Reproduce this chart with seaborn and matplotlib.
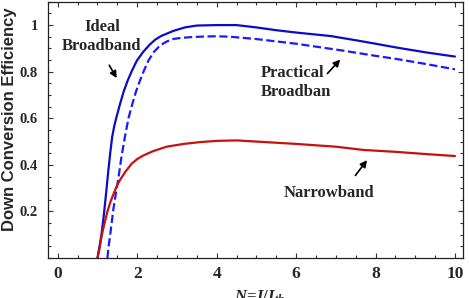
import numpy as np
import matplotlib
matplotlib.use('Agg')
import matplotlib.pyplot as plt
import seaborn as sns
from matplotlib.ticker import MultipleLocator

# values
ideal_n = [1.0, 1.05, 1.1, 1.15, 1.2, 1.27, 1.32, 1.37, 1.42, 1.47, 1.57, 1.66, 1.76, 1.87, 1.99,
           2.15, 2.32, 2.45, 2.6, 2.91, 3.2, 3.5, 4.0, 4.5, 5.0, 5.5, 6.0, 6.87, 7.5, 8.0,
           8.55, 9.3, 10.0]
ideal_eff = [0.0, 0.05, 0.1, 0.17, 0.25, 0.37, 0.45, 0.52, 0.565, 0.6, 0.663, 0.715, 0.762, 0.805, 0.847,
             0.885, 0.917, 0.937, 0.953, 0.975, 0.99, 0.998, 1.0, 1.0, 0.99, 0.978, 0.968, 0.953, 0.935, 0.92,
             0.903, 0.882, 0.865]

practical_n = [1.25, 1.28, 1.32, 1.36, 1.4, 1.46, 1.52, 1.6, 1.69, 1.78, 1.88, 1.97, 2.07, 2.17, 2.28,
               2.42, 2.58, 2.75, 2.9, 3.1, 3.33, 3.7, 4.0, 4.34, 5.0, 5.5, 6.0, 7.12, 8.0,
               8.55, 9.3, 10.0]
practical_eff = [0.0, 0.05, 0.1, 0.155, 0.21, 0.275, 0.336, 0.43, 0.52, 0.6, 0.663, 0.715, 0.762, 0.805, 0.847,
                 0.885, 0.913, 0.93, 0.94, 0.945, 0.948, 0.951, 0.952, 0.95, 0.94, 0.93, 0.92, 0.892, 0.868,
                 0.854, 0.832, 0.81]

narrow_n = [1.0, 1.04, 1.1, 1.14, 1.2, 1.25, 1.32, 1.38, 1.44, 1.5, 1.57, 1.7, 1.86, 2.0, 2.15,
            2.4, 2.74, 3.17, 3.6, 4.0, 4.5, 5.0, 6.0, 7.0, 7.7, 8.5, 9.3, 10.0]
narrow_eff = [0.0, 0.03, 0.09, 0.123, 0.165, 0.2, 0.238, 0.265, 0.29, 0.315, 0.336, 0.37, 0.405, 0.425, 0.44,
              0.459, 0.478, 0.49, 0.498, 0.503, 0.505, 0.5, 0.49, 0.478, 0.464, 0.456, 0.446, 0.438]

x_ticks = [0, 2, 4, 6, 8, 10]
y_ticks = [0.2, 0.4, 0.6, 0.8, 1.0]
y_tick_labels = ['0.2', '0.4', '0.6', '0.8', '1']

sns.set_style('ticks')
plt.rcParams['font.family'] = ['Liberation Serif', 'DejaVu Serif']
plt.rcParams['mathtext.fontset'] = 'custom'
plt.rcParams['mathtext.it'] = 'Liberation Serif:italic:bold'
plt.rcParams['mathtext.rm'] = 'Liberation Serif:bold'

fig, ax = plt.subplots(figsize=(4.69, 2.98), dpi=100)
fig.subplots_adjust(left=0.102, right=0.987, top=0.994, bottom=0.134)

sns.lineplot(x=ideal_n, y=ideal_eff, ax=ax, color='#0c0cc8', linewidth=1.6)
sns.lineplot(x=practical_n, y=practical_eff, ax=ax, color='#1a1aff', linewidth=1.6,
             linestyle='--', dashes=(4.5, 2.2))
sns.lineplot(x=narrow_n, y=narrow_eff, ax=ax, color='#c81010', linewidth=1.6)

ax.set_xlim(-0.25, 10.2)
ax.set_ylim(0, 1.1)
ax.set_xticks(x_ticks)
ax.set_xticklabels([str(t) for t in x_ticks], fontsize=12.5, fontweight='bold')
ax.set_yticks(y_ticks)
ax.set_yticklabels(y_tick_labels, fontsize=10.5, fontweight='bold')
ax.xaxis.set_minor_locator(MultipleLocator(0.5))
ax.yaxis.set_minor_locator(MultipleLocator(0.05))
ax.tick_params(which='both', direction='in', top=True, right=True, width=0.8, color='#333333')
ax.tick_params(which='major', length=3.5)
ax.tick_params(which='minor', length=2)
ax.tick_params(axis='x', pad=6)
ax.tick_params(axis='y', pad=7)
for s in ax.spines.values():
    s.set_linewidth(0.9)
    s.set_color('#222222')

ax.set_ylabel('Down Conversion Efficiency', fontsize=12, fontweight='bold',
              family=['Liberation Sans', 'DejaVu Sans'])
ax.yaxis.set_label_coords(-0.075, 0.54)
ax.set_xlabel(r'$N\!=\!I/I_{th}$', fontsize=12)
ax.xaxis.set_label_coords(0.51, -0.12)

# annotations
ax.text(1.11, 0.953, 'Ideal\nBroadband', ha='center', va='center', fontsize=12,
        fontweight='bold', linespacing=1.25)
ax.annotate('', xy=(1.52, 0.762), xytext=(1.26, 0.838),
            arrowprops=dict(arrowstyle='-|>', color='black', lw=1.2, mutation_scale=10))
ax.text(5.1, 0.753, 'Practical\nBroadban', ha='left', va='center', fontsize=12,
        fontweight='bold', linespacing=1.25)
ax.annotate('', xy=(7.16, 0.861), xytext=(6.74, 0.783),
            arrowprops=dict(arrowstyle='-|>', color='black', lw=1.2, mutation_scale=10))
ax.text(6.83, 0.28, 'Narrowband', ha='center', va='center', fontsize=12, fontweight='bold')
ax.annotate('', xy=(7.83, 0.43), xytext=(7.45, 0.345),
            arrowprops=dict(arrowstyle='-|>', color='black', lw=1.2, mutation_scale=10))

plt.savefig('out.png', dpi=100)
